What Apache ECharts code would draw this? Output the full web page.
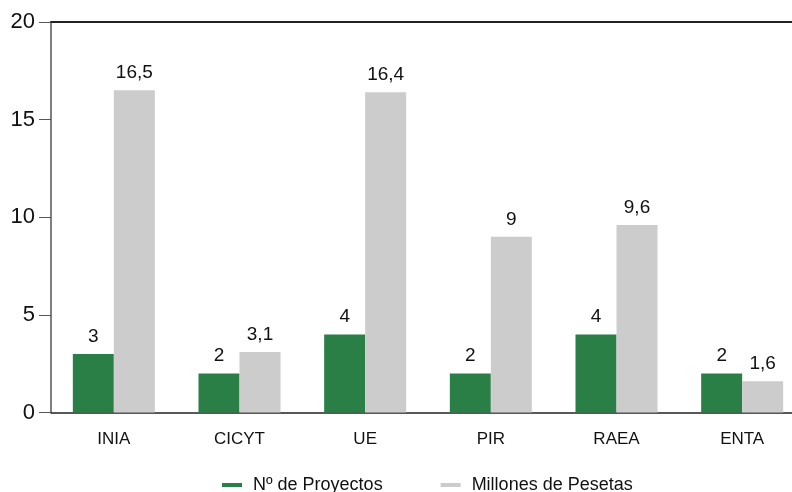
<!DOCTYPE html>
<html><head><meta charset="utf-8">
<script src="https://cdn.jsdelivr.net/npm/echarts@6/dist/echarts.min.js"></script>
<style>html,body{margin:0;padding:0;background:#fff;overflow:hidden;width:792px;height:492px}#c{width:812px;height:492px}</style>
</head><body><div id="c"></div>
<script>
const categories = ['INIA','CICYT','UE','PIR','RAEA','ENTA'];
const proyectos = [3,2,4,2,4,2];
const millones = [16.5,3.1,16.4,9,9.6,1.6];
const yTicks = [0,5,10,15,20];
const seriesNames = ['Nº de Proyectos','Millones de Pesetas'];

const fmt = p => String(p.value).replace('.', ',');
const font = 'Liberation Sans';
const chart = echarts.init(document.getElementById('c'));
chart.setOption({
  animation:false,
  textStyle:{fontFamily:font},
  grid:{left:51, top:22, width:754, height:390.5, containLabel:false},
  legend:{left:217, top:471, itemWidth:20, itemHeight:4, itemGap:58, icon:'rect',
    textStyle:{fontSize:18, color:'#111', fontFamily:font, padding:[0,0,0,6]},
    data:seriesNames},
  xAxis:[{type:'category', data:categories,
    axisLine:{lineStyle:{color:'#222', width:1.5}},
    axisTick:{length:12, lineStyle:{color:'#444'}},
    axisLabel:{fontSize:17, color:'#111', margin:18, fontFamily:font}},
    {type:'category', position:'top', data:categories,
    axisLine:{show:true, lineStyle:{color:'#222', width:2}},
    axisTick:{show:false}, axisLabel:{show:false}}],
  yAxis:{type:'value', min:yTicks[0], max:yTicks[yTicks.length-1], interval:5,
    axisLine:{show:true, lineStyle:{color:'#555', width:1.5}},
    axisTick:{show:true, length:12, lineStyle:{color:'#555'}},
    splitLine:{show:false},
    axisLabel:{fontSize:22, color:'#111', margin:16, fontFamily:font}},
  series:[
    {name:seriesNames[0], type:'bar', data:proyectos, barWidth:41, barGap:'0%',
      itemStyle:{color:'#2a7f47'},
      label:{show:true, position:'top', distance:8, fontSize:19, color:'#111', formatter:fmt}},
    {name:seriesNames[1], type:'bar', data:millones, barWidth:41,
      itemStyle:{color:'#cccccc'},
      label:{show:true, position:'top', distance:8, fontSize:19, color:'#111', formatter:fmt}}
  ]
});
</script></body></html>
